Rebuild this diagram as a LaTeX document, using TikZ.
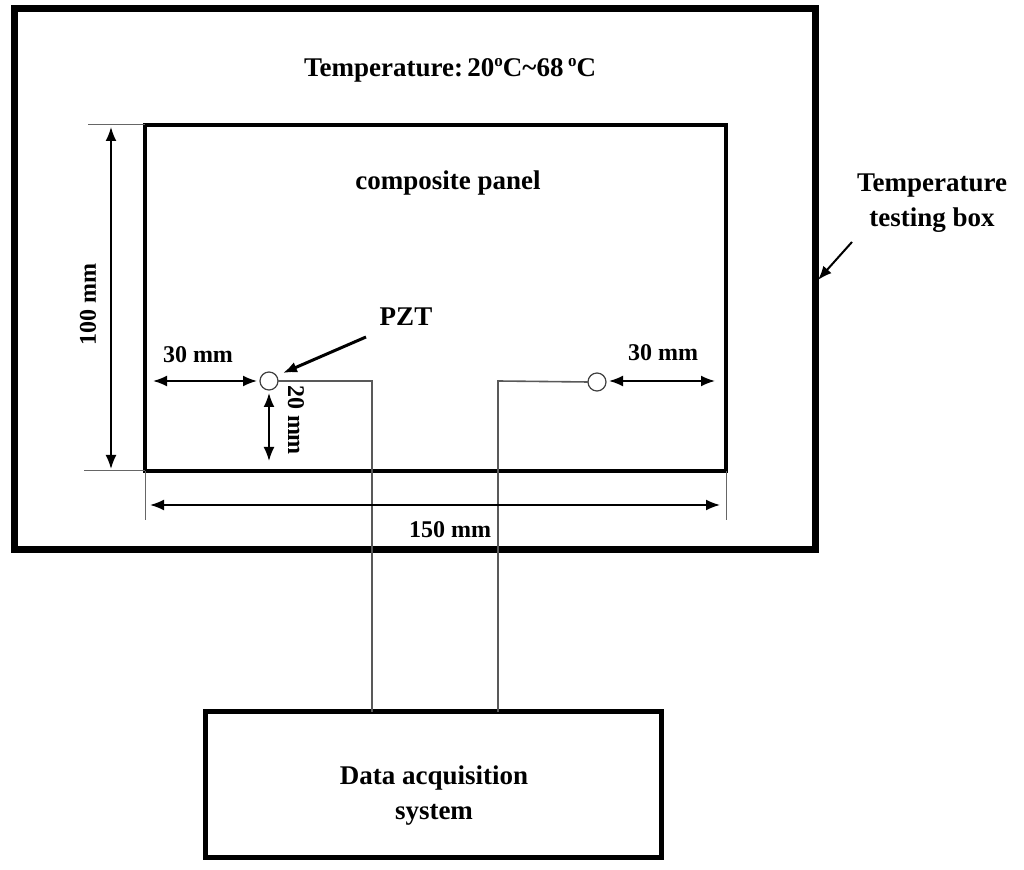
\documentclass[tikz,border=0pt]{standalone}
\usepackage{fontspec}
\setmainfont{Liberation Serif}
\usetikzlibrary{arrows.meta}
\newcommand{\dego}{\raisebox{0.75ex}{\fontsize{8.5}{9}\selectfont o}}
\begin{document}
\begin{tikzpicture}[x=0.5pt,y=-0.5pt,
 lbl/.style={font=\bfseries\fontsize{13.5}{17.5}\selectfont, align=center, inner sep=0},
 dim/.style={font=\bfseries\fontsize{12}{14}\selectfont, inner sep=0},
 dimline/.style={line width=0.9pt, {Latex[length=7pt,width=5.5pt]}-{Latex[length=7pt,width=5.5pt]}},
 pointer/.style={line width=1pt, -{Latex[length=7pt,width=5.5pt]}},
 ext/.style={line width=0.5pt, black!60},
 wire/.style={line width=0.8pt, black!65},
 boxstyle/.style={draw, inner sep=0, outer sep=0},
 pzt/.style={circle, draw=black!75, line width=0.6pt, minimum size=9pt, inner sep=0, outer sep=0},
 ]
\useasboundingbox (0,0) rectangle (1024,870);
% boxes
\node[boxstyle, line width=3.5pt, minimum width=400.5pt, minimum height=270.5pt] (box) at (414.5,279.5) {};
\node[boxstyle, line width=2pt, minimum width=290.5pt, minimum height=173pt] (panel) at (435.5,298) {};
\node[boxstyle, line width=2.5pt, minimum width=228pt, minimum height=73pt] (daq) at (433,785) {};
\node[lbl] (daqtext) at (434,796) {Data acquisition\\system};
% labels
\node[lbl] (temp) at (450,70) {Temperature:\,20\dego C\textasciitilde68\,\dego C};
\node[lbl] (comp) at (448,183) {composite panel};
\node[lbl] (tbox) at (932,203) {Temperature\\testing box};
\coordinate (tboxfrom) at (852,242);
\coordinate (tboxto) at (818,280);
\draw[pointer] (tboxfrom) -- (tboxto);
% PZTs
\node[pzt] (pztL) at (269,381) {};
\node[pzt] (pztR) at (597,382) {};
% wires
\coordinate (wL) at (372,381);
\coordinate (wR) at (498,381);
\draw[wire] (pztL.east) -- (wL) -- (wL |- daq.north);
\draw[wire] (pztR.west) -- (wR) -- (wR |- daq.north);
% extension lines
\coordinate (e1) at (88,125);
\coordinate (e2) at (84,471);
\coordinate (e3) at (145,520);
\coordinate (e4) at (726,520);
\draw[ext] (panel.north west) -- (e1);
\draw[ext] (panel.south west) -- (e2);
\draw[ext] (panel.south west) -- (e3);
\draw[ext] (panel.south east) -- (e4);
% dimensions
\coordinate (d100a) at (111,127);
\coordinate (d100b) at (111,469);
\draw[dimline] (d100a) -- (d100b);
\node[dim, rotate=90] (l100) at (88,305) {100 mm};
\coordinate (d150a) at (150,505);
\coordinate (d150b) at (720,505);
\draw[dimline] (d150a) -- (d150b);
\node[dim] (l150) at (450,530) {150 mm};
\coordinate (d30a) at (153,381);
\coordinate (d30b) at (257,381);
\draw[dimline] (d30a) -- (d30b);
\node[dim] (l30L) at (198,355) {30 mm};
\coordinate (d20a) at (269,393);
\coordinate (d20b) at (269,461);
\draw[dimline] (d20a) -- (d20b);
\node[dim, rotate=-90] (l20) at (296,420) {20 mm};
\coordinate (d30c) at (609,381);
\coordinate (d30d) at (715,381);
\draw[dimline] (d30c) -- (d30d);
\node[dim] (l30R) at (663,353) {30 mm};
% PZT label
\node[lbl] (lpzt) at (406,317) {PZT};
\coordinate (pztfrom) at (366,337);
\coordinate (pztto) at (283,373);
\draw[pointer, line width=1.5pt] (pztfrom) -- (pztto);
\end{tikzpicture}
\end{document}
